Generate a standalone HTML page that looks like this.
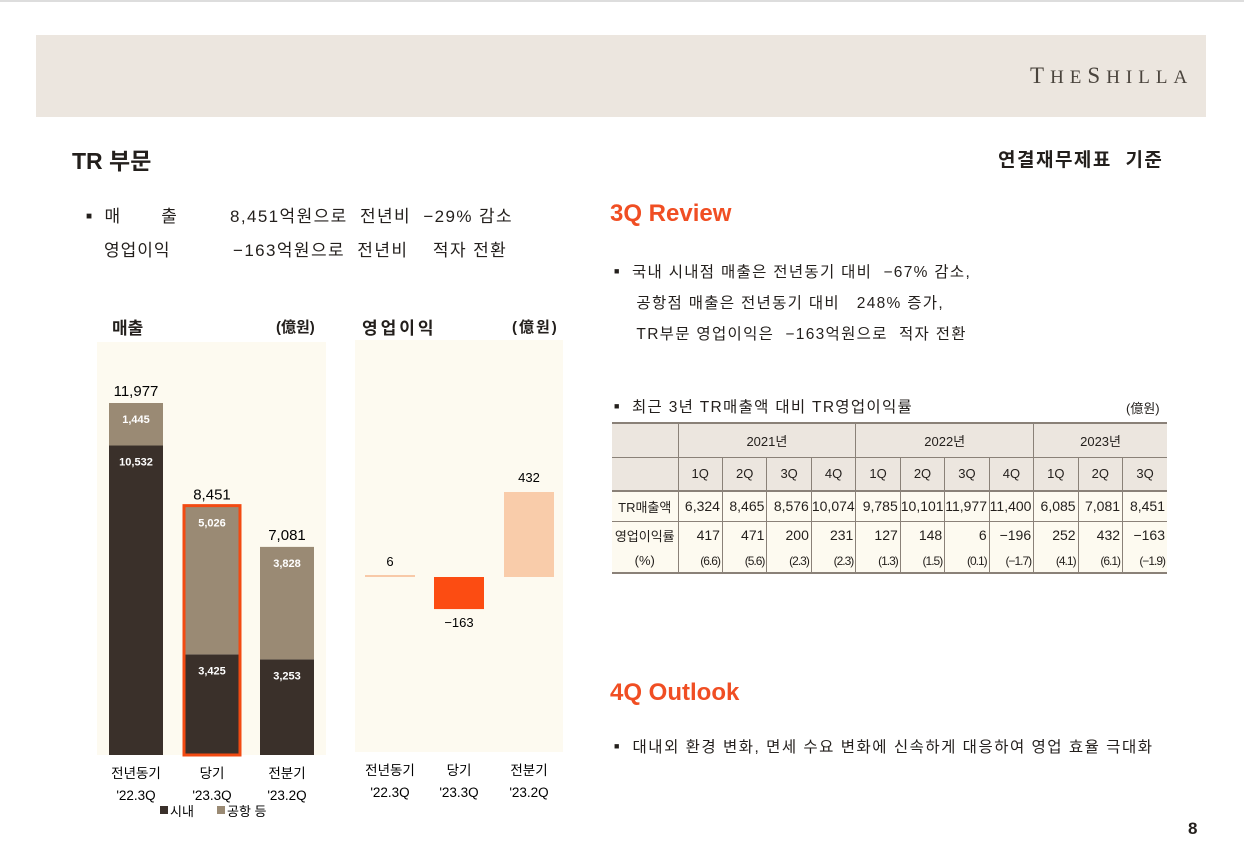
<!DOCTYPE html>
<html><head><meta charset="utf-8">
<style>
body{margin:0;width:1244px;height:856px;background:#fff;position:relative;overflow:hidden;font-family:"Liberation Sans","Noto Sans CJK KR",sans-serif;color:#231f1c}
.a{position:absolute;white-space:nowrap}
table{border-collapse:collapse;position:absolute;left:612px;top:422px;width:555px;font-size:13px;table-layout:fixed}
td{text-align:center;padding:0;border-left:1px solid #8a8178;}
td:first-child{border-left:none}
.hd td{background:#ece6df}
.dt td{background:#fdfaf0;text-align:right;padding-right:2px}
.dt td:first-child{text-align:center;padding-right:0}
</style></head><body>
<div class="a" style="left:0;top:0;width:1244px;height:2px;background:#ddd"></div>
<div class="a" style="left:36px;top:35px;width:1170px;height:82px;background:#ece6df"></div>
<div class="a" style="left:1030px;top:63px;font-family:'Liberation Serif',serif;font-size:23px;letter-spacing:6px;color:#4a443d">T<span style="font-size:19px">HE</span>S<span style="font-size:19px">HILLA</span></div>
<div class="a" style="left:72px;top:142px;font-size:23px;font-weight:bold">TR 부문</div>
<div class="a" style="left:998px;top:145px;font-size:19px;font-weight:bold;letter-spacing:1.5px">연결재무제표 &nbsp;기준</div>
<div class="a" style="left:86px;top:202px;font-size:17px;letter-spacing:1px"><span style="font-size:10px;vertical-align:3px">■</span>&nbsp; 매 &nbsp; &nbsp; &nbsp; 출</div>
<div class="a" style="left:230px;top:202px;font-size:17px;letter-spacing:1.4px">8,451억원으로 &nbsp;전년비 &nbsp;−29% 감소</div>
<div class="a" style="left:104px;top:236px;font-size:17px;letter-spacing:1px">영업이익</div>
<div class="a" style="left:233px;top:236px;font-size:17px;letter-spacing:1.4px">−163억원으로 &nbsp;전년비 &nbsp; &nbsp;적자 전환</div>

<div class="a" style="left:112px;top:314px;font-size:17px;font-weight:bold">매출</div>
<div class="a" style="left:276px;top:316px;font-size:15px;font-weight:bold">(億원)</div>
<div class="a" style="left:362px;top:314px;font-size:17px;font-weight:bold;letter-spacing:3px">영업이익</div>
<div class="a" style="left:512px;top:316px;font-size:15px;font-weight:bold;letter-spacing:2px">(億원)</div>
<svg id="charts" class="a" style="left:0;top:0" width="600" height="856"></svg>

<div class="a" style="left:610px;top:200px;font-size:24px;color:#f04e23;font-weight:bold">3Q Review</div>
<div class="a" style="left:614px;top:256px;font-size:15.5px;line-height:31px;letter-spacing:1.3px"><span style="font-size:9px;vertical-align:3px">■</span>&nbsp; 국내 시내점 매출은 전년동기 대비 &nbsp;−67% 감소,<br>&nbsp; &nbsp; 공항점 매출은 전년동기 대비 &nbsp; 248% 증가,<br>&nbsp; &nbsp; TR부문 영업이익은 &nbsp;−163억원으로 &nbsp;적자 전환</div>
<div class="a" style="left:614px;top:395px;font-size:15.5px;letter-spacing:1.3px"><span style="font-size:9px;vertical-align:3px">■</span>&nbsp; 최근 3년 TR매출액 대비 TR영업이익률</div>
<div class="a" style="left:1126px;top:398px;font-size:13px">(億원)</div>
<table>
<colgroup><col style="width:66px"><col span="11"></colgroup>
<tr class="hd" style="height:34px;border-top:2px solid #8a8178"><td></td><td colspan="4">2021년</td><td colspan="4">2022년</td><td colspan="3">2023년</td></tr>
<tr class="hd" style="height:34px;border-top:1px solid #8a8178"><td></td><td>1Q</td><td>2Q</td><td>3Q</td><td>4Q</td><td>1Q</td><td>2Q</td><td>3Q</td><td>4Q</td><td>1Q</td><td>2Q</td><td>3Q</td></tr>
<tr class="dt" id="r1" style="height:30px;border-top:2px solid #8a8178;font-size:14px"><td style="font-size:13px">TR매출액</td></tr>
<tr class="dt" id="r2" style="height:28px;border-top:1px solid #8a8178;font-size:14px"><td style="font-size:13px">영업이익률</td></tr>
<tr class="dt" id="r3" style="height:24px;border-bottom:2px solid #8a8178;font-size:12px;letter-spacing:-1px"><td style="font-size:13px;letter-spacing:0">(%)</td></tr>
</table>

<div class="a" style="left:610px;top:679px;font-size:24px;color:#f04e23;font-weight:bold">4Q Outlook</div>
<div class="a" style="left:614px;top:735px;font-size:15.5px;letter-spacing:1.5px"><span style="font-size:9px;vertical-align:3px">■</span>&nbsp; 대내외 환경 변화, 면세 수요 변화에 신속하게 대응하여 영업 효율 극대화</div>
<div class="a" style="left:1188px;top:819px;font-size:17px;font-weight:bold">8</div>
<script>
const categories=["전년동기","당기","전분기"];
const periods=["'22.3Q","'23.3Q","'23.2Q"];
const downtown=[10532,3425,3253];
const airport=[1445,5026,3828];
const opProfit=[6,-163,432];
const tblRevenue=["6,324","8,465","8,576","10,074","9,785","10,101","11,977","11,400","6,085","7,081","8,451"];
const tblProfit=["417","471","200","231","127","148","6","−196","252","432","−163"];
const tblMargin=["(6.6)","(5.6)","(2.3)","(2.3)","(1.3)","(1.5)","(0.1)","(−1.7)","(4.1)","(6.1)","(−1.9)"];
[["r1",tblRevenue],["r2",tblProfit],["r3",tblMargin]].forEach(([id,arr])=>{const r=document.getElementById(id);arr.forEach(v=>{const td=document.createElement('td');td.textContent=v;


r.appendChild(td);});});
const NS="http://www.w3.org/2000/svg",svg=document.getElementById('charts');
function el(t,a,txt){const e=document.createElementNS(NS,t);for(const k in a)e.setAttribute(k,a[k]);if(txt!==undefined)e.textContent=txt;svg.appendChild(e);return e;}
function fmt(v){return (v<0?"−":"")+Math.abs(v).toLocaleString('en-US');}
const p1=el('rect',{x:97,y:342,width:229,height:413,fill:'#fdfaf0'});


const base1=755,k1=352/11977;const y1=v=>base1-v*k1;
const xs1=[109,185,260],bw1=54;
categories.forEach((c,i)=>{const tot=downtown[i]+airport[i];const x=xs1[i];
const d=el('rect',{x:x,y:y1(downtown[i]),width:bw1,height:downtown[i]*k1,fill:'#3a302a'});


const a=el('rect',{x:x,y:y1(tot),width:bw1,height:airport[i]*k1,fill:'#9a8a74'});


if(i===1){const h=el('rect',{x:x-1,y:y1(tot)-1,width:bw1+2,height:tot*k1+1,fill:'none',stroke:'#f24a12','stroke-width':3});

}
const cx=x+bw1/2;
const t=el('text',{x:cx,y:y1(tot)-7,'text-anchor':'middle','font-size':15},fmt(tot));


const ta=el('text',{x:cx,y:y1(tot)+20,'text-anchor':'middle','font-size':11,'font-weight':'bold',fill:'#fff'},fmt(airport[i]));


const td=el('text',{x:cx,y:y1(downtown[i])+20,'text-anchor':'middle','font-size':11,'font-weight':'bold',fill:'#fff'},fmt(downtown[i]));


const c1=el('text',{x:cx,y:778,'text-anchor':'middle','font-size':13.5},c);


const c2=el('text',{x:cx,y:800,'text-anchor':'middle','font-size':13.5},periods[i]);

});
const l1=el('rect',{x:160,y:806,width:8,height:8,fill:'#3a302a'});
const l2=el('text',{x:170,y:816,'font-size':13},'시내');
const l3=el('rect',{x:217,y:806,width:8,height:8,fill:'#9a8a74'});
const l4=el('text',{x:227,y:816,'font-size':13},'공항 등');
const p2=el('rect',{x:355,y:340,width:208,height:412,fill:'#fdfaf0'});


const base2=577,k2=85/432;const y2=v=>base2-v*k2;
const xs2=[365,434,504],bw2=50,cols=['#f8c9a8','#fc4c12','#f9ccaa'];
categories.forEach((c,i)=>{const v=opProfit[i];const x=xs2[i];const h=Math.max(Math.abs(v)*k2,2);
const r=el('rect',{x:x,y:v>=0?y2(v)-(h-v*k2):base2,width:bw2,height:h,fill:cols[i]});


const cx=x+bw2/2;
const t=el('text',{x:cx,y:v>=0?y2(v)-10:y2(v)+18,'text-anchor':'middle','font-size':13},fmt(v));


const c1=el('text',{x:cx,y:775,'text-anchor':'middle','font-size':13.5},c);


const c2=el('text',{x:cx,y:797,'text-anchor':'middle','font-size':13.5},periods[i]);

});
</script>
</body></html>
